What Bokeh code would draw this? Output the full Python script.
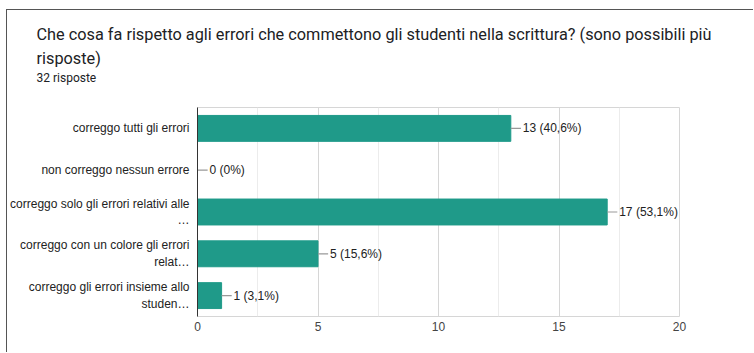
from bokeh.plotting import figure
from bokeh.models import Range1d, FixedTicker, ColumnDataSource, Title
from bokeh.core.properties import value
from bokeh.embed import file_html
from bokeh.resources import INLINE

title_line1 = "Che cosa fa rispetto agli errori che commettono gli studenti nella scrittura? (sono possibili più"
title_line2 = "risposte)"
subtitle = "32 risposte"
categories = [
    "correggo tutti gli errori",
    "non correggo nessun errore",
    "correggo solo gli errori relativi alle\n…",
    "correggo con un colore gli errori\nrelat…",
    "correggo gli errori insieme allo\nstuden…",
]
counts = [13, 0, 17, 5, 1]
bar_labels = ["13 (40,6%)", "0 (0%)", "17 (53,1%)", "5 (15,6%)", "1 (3,1%)"]
x_ticks = [0, 5, 10, 15, 20]
x_minor = [2.5, 7.5, 12.5, 17.5]

W, H = 754, 353
OX, OY, BW = 6, 9, 1               # card border offset and width
PW, PH = W - OX - BW, H - OY - BW
FL, FR = 194 - OX - BW, 679 - OX - BW
FT, FB = 107 - OY - BW, 316 - OY - BW
TX = 33 - OX - BW                  # title left edge

idx = list(range(len(categories)))
src = ColumnDataSource(dict(
    y=idx, right=counts, labels=bar_labels,
    cend=[c + 0.42 for c in counts],
))

p = figure(width=PW, height=PH, output_backend="svg", toolbar_location=None,
           x_range=Range1d(0, 20), y_range=Range1d(4.5, -0.5),
           min_border_left=FL, min_border_right=PW - FR, min_border_top=FT,
           min_border_bottom=PH - FB, margin=(OY, 0, 0, OX))
p.styles = {"border-left": f"{BW}px solid #555555", "border-top": f"{BW}px solid #555555"}
p.outline_line_color = "#d6d6d6"
p.background_fill_color = "white"
p.border_fill_color = "white"

p.hbar(y="y", left=0, right="right", height=0.62, source=src,
       fill_color="#1f9a89", line_color="#1f9a89")
p.segment(x0="right", x1="cend", y0="y", y1="y", source=src,
          line_color="#999999", line_width=1.2)
p.text(x="right", y="y", text="labels", source=src, x_offset=12,
       text_font=value("Liberation Sans"), text_font_size="12px",
       text_color="#222222", text_baseline="middle", text_align="left")

# x axis
p.xaxis.ticker = FixedTicker(ticks=x_ticks, minor_ticks=x_minor)
p.xaxis.axis_line_color = None
p.xaxis.major_tick_line_color = None
p.xaxis.minor_tick_line_color = None
p.xaxis.major_tick_out = 0
p.xaxis.minor_tick_out = 0
p.xaxis.major_label_text_font = "Liberation Sans"
p.xaxis.major_label_text_font_size = "12px"
p.xaxis.major_label_text_color = "#444444"
p.xaxis.major_label_standoff = 5
p.xgrid.grid_line_color = "#d6d6d6"
p.xgrid.minor_grid_line_color = "#ececec"
p.ygrid.grid_line_color = None

# y axis
p.yaxis.ticker = FixedTicker(ticks=idx)
p.yaxis.major_label_overrides = {i: c for i, c in zip(idx, categories)}
p.yaxis.axis_line_color = "#333333"
p.yaxis.major_tick_line_color = None
p.yaxis.minor_tick_line_color = None
p.yaxis.major_label_text_font = "Liberation Sans"
p.yaxis.major_label_text_font_size = "12px"
p.yaxis.major_label_text_color = "#222222"
p.yaxis.major_label_standoff = 2

# titles (stacked upward from the frame; a blank white spacer sits closest)
TFONT, TSIZE = "Roboto", "16.3px"
p.title.text = title_line1
p.title.text_font = TFONT
p.title.text_font_size = TSIZE
p.title.text_font_style = "normal"
p.title.text_color = "#202124"
p.title.align = "left"
p.title.offset = TX - FL
p.title.standoff = 3
p.add_layout(Title(text=" ", text_font=TFONT, text_font_size="12px",
                   text_color="white", align="left", offset=TX - FL,
                   standoff=6.6), "above")
p.add_layout(Title(text=subtitle, text_font=TFONT, text_font_size="12px",
                   text_font_style="normal", text_color="#202124", align="left",
                   offset=TX - FL, standoff=0), "above")
p.add_layout(Title(text=title_line2, text_font=TFONT, text_font_size=TSIZE,
                   text_font_style="normal", text_color="#202124", align="left",
                   offset=TX - FL, standoff=2), "above")

open("out.html", "w").write(file_html(p, INLINE))
